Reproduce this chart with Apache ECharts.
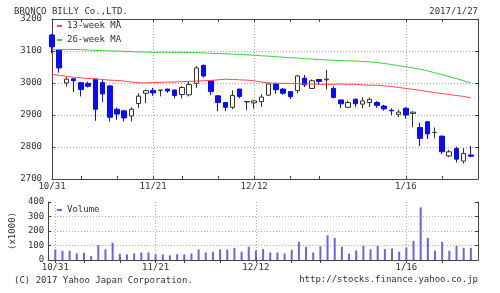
<!DOCTYPE html>
<html><head><meta charset="utf-8">
<script src="https://cdn.jsdelivr.net/npm/echarts/dist/echarts.min.js"></script>
<style>html,body{margin:0;padding:0;background:#fff}#c{width:500px;height:293px}</style>
</head><body><div id="c"></div>
<script>
const dates = ['10/31','11/1','11/2','11/4','11/7','11/8','11/9','11/10','11/11','11/14','11/15','11/16','11/17','11/18','11/21','11/22','11/24','11/25','11/28','11/29','11/30','12/1','12/2','12/5','12/6','12/7','12/8','12/9','12/12','12/13','12/14','12/15','12/16','12/19','12/20','12/21','12/22','12/26','12/27','12/28','12/29','12/30','1/4','1/5','1/6','1/10','1/11','1/12','1/13','1/16','1/17','1/18','1/19','1/20','1/23','1/24','1/25','1/26','1/27'];
const tickDates = ['10/31','11/7','11/14','11/21','11/28','12/5','12/12','12/19','12/26','1/16','1/23'];
const labelDates = ['10/31','11/21','12/12','1/16'];
const opens  = [3150,3103,3000,3013,3001,2999,3012,3001,2991,2918,2913,2897,2936,2968,2977,2977,2981,2978,2964,2963,2999,3055,3007,2960,2939,2924,2981,2941,2938,2942,2962,2997,2981,2973,2976,3015,2983,3011,3010,2983,2947,2924,2949,2934,2939,2939,2928,2915,2902,2921,2905,2861,2879,2845,2834,2772,2795,2756,2775];
const closes = [3113,3047,3012,3007,2980,2990,2918,2966,2893,2903,2891,2918,2959,2976,2969,2978,2975,2961,2986,2995,3047,3022,2973,2939,2924,2961,2958,2942,2944,2956,2997,2979,2968,2957,3022,2994,3007,3005,3012,2955,2935,2939,2935,2944,2949,2930,2919,2913,2909,2900,2909,2827,2841,2846,2785,2785,2762,2780,2771];
const lows   = [3093,3032,2989,2972,2958,2986,2882,2940,2880,2885,2880,2880,2922,2937,2960,2958,2969,2952,2952,2958,2985,3017,2962,2912,2912,2918,2952,2915,2920,2925,2959,2966,2963,2950,2968,2987,2982,2995,2980,2952,2922,2921,2925,2921,2925,2922,2914,2900,2893,2889,2862,2803,2825,2827,2778,2768,2752,2748,2768];
const highs  = [3153,3104,3019,3014,3002,3004,3013,3010,2993,2923,2915,2924,2968,2980,2985,2979,2982,2979,2990,3005,3053,3058,3008,2961,2940,2977,2982,2943,2946,2965,3001,3002,2984,2975,3025,3025,3011,3013,3041,2990,2948,2945,2952,2955,2955,2944,2932,2921,2917,2925,2911,2876,2880,2861,2835,2791,2801,2796,2803];
const ma13 = [3027,3024,3021,3018,3016,3014,3013,3011,3009,3008,3006,3003,3001,3000,3002,3002,3003,3003,3004,3005,3006,3007,3008,3010,3012,3011,3010,3009,3007,3003,3000,2999,2999,2998,2998,2997,2997,2996,2996,2996,2997,2996,2996,2994,2993,2993,2991,2989,2986,2983,2980,2977,2973,2970,2967,2964,2961,2958,2954];
const ma26 = [3105,3105,3105,3105,3104,3103,3102,3101,3100,3100,3099,3098,3097,3097,3096,3096,3096,3096,3096,3095,3095,3094,3093,3092,3091,3090,3089,3088,3087,3085,3084,3082,3081,3079,3078,3076,3075,3073,3072,3071,3070,3069,3069,3067,3066,3064,3061,3058,3054,3051,3047,3043,3038,3032,3026,3020,3014,3007,3000];
const volumes = [73,64,64,45,50,27,102,73,120,43,39,45,52,52,39,39,32,39,39,45,73,52,57,73,73,84,57,91,66,75,52,52,45,70,125,91,52,95,170,152,91,45,66,98,73,98,75,80,57,86,132,363,152,64,125,64,98,84,84];
const priceTicks = {min:2700, max:3200, interval:100};
const volTicks = {min:0, max:400, interval:100};

const FONT = 'DejaVu Sans Mono';
const TXT = '#333';
const mainCats = dates.concat(['']);
const volCats = [' '].concat(dates, ['  ']);
const candleData = dates.map((d,i)=>[opens[i],closes[i],lows[i],highs[i]]);
const volData = [null].concat(volumes);

function xAxisFor(grid, cats, pos, showLabel){
  return {
    type:'category', gridIndex:grid, data:cats, boundaryGap:false, position:pos,
    axisLine:{show:true, lineStyle:{color:'#444', width:1}},
    axisTick:{show:true, inside:true, length:3, lineStyle:{color:'#444'},
      interval:(i)=>tickDates.indexOf(cats[i])>=0},
    axisLabel:{show:showLabel, margin:3, fontSize:9, fontFamily:FONT, color:TXT,
      interval:(i)=>labelDates.indexOf(cats[i])>=0},
    splitLine:{show:pos==='bottom', showMinLine:true, lineStyle:{color:'#aaa', type:[1,2]},
      interval:(i)=>labelDates.indexOf(cats[i])>=0}
  };
}
function yAxisFor(grid, t, pos, showLabel, margin){
  return {
    type:'value', gridIndex:grid, position:pos, min:t.min, max:t.max, interval:t.interval,
    axisLine:{show:true, lineStyle:{color:'#444', width:1}},
    axisTick:{show:true, inside:true, length:3, lineStyle:{color:'#444'}},
    axisLabel:{show:showLabel, margin:margin, fontSize:9, fontFamily:FONT, color:TXT, formatter:(v)=>String(v)},
    splitLine:{show:pos==='left', showMinLine:false, showMaxLine:false, lineStyle:{color:'#aaa', type:[1,2]}}
  };
}

const chart = echarts.init(document.getElementById('c'), null, {renderer:'canvas'});
const vy = yAxisFor(1, volTicks, 'left', true, 4);
vy.name = '(x1000)'; vy.nameLocation='middle'; vy.nameGap=22; vy.nameRotate=90;
vy.nameTextStyle = {fontSize:9, fontFamily:FONT, color:TXT};
chart.setOption({
  animation:false,
  grid:[
    {left:52, right:22, top:19, height:160},
    {left:46, right:22, top:202, height:58}
  ],
  xAxis:[
    xAxisFor(0, mainCats, 'bottom', true),
    xAxisFor(0, mainCats, 'top', false),
    xAxisFor(1, volCats, 'bottom', true),
    xAxisFor(1, volCats, 'top', false)
  ],
  yAxis:[
    yAxisFor(0, priceTicks, 'left', true, 10),
    yAxisFor(0, priceTicks, 'right', false, 4),
    vy,
    yAxisFor(1, volTicks, 'right', false, 4)
  ],
  legend:[
    {data:['13-week MA','26-week MA'], orient:'vertical', left:57, top:19, padding:0, itemGap:0,
     icon:'rect', itemWidth:5, itemHeight:2,
     textStyle:{fontSize:9, fontFamily:FONT, color:TXT, lineHeight:14}},
    {data:['Volume'], orient:'vertical', left:57, top:203, padding:0, itemGap:0,
     icon:'rect', itemWidth:5, itemHeight:2,
     textStyle:{fontSize:9, fontFamily:FONT, color:TXT, lineHeight:14}}
  ],
  series:[
    {name:'price', type:'candlestick', xAxisIndex:0, yAxisIndex:0, data:candleData, barWidth:5,
     itemStyle:{color:'#ffffff', color0:'#0a0aff', borderColor:'#333333', borderColor0:'#0a0aff', borderWidth:1}},
    {name:'13-week MA', type:'line', xAxisIndex:0, yAxisIndex:0, data:ma13, color:'#ff4848',
     showSymbol:false, symbol:'none', lineStyle:{width:1, color:'#ff4848'}},
    {name:'26-week MA', type:'line', xAxisIndex:0, yAxisIndex:0, data:ma26, color:'#3ccc3c',
     showSymbol:false, symbol:'none', lineStyle:{width:1, color:'#3ccc3c'}},
    {name:'Volume', type:'bar', xAxisIndex:2, yAxisIndex:2, data:volData, barWidth:2, color:'#6464ee',
     itemStyle:{color:'#6464ee'}}
  ],
  graphic:[
    {type:'text', x:14, y:12, style:{text:'BRONCO BILLY Co.,LTD.', font:'9px "DejaVu Sans Mono"', fill:TXT, textAlign:'left', textVerticalAlign:'middle'}},
    {type:'text', x:478, y:12, style:{text:'2017/1/27', font:'9px "DejaVu Sans Mono"', fill:TXT, textAlign:'right', textVerticalAlign:'middle'}},
    {type:'text', x:14, y:281, style:{text:'(C) 2017 Yahoo Japan Corporation.', font:'9px "DejaVu Sans Mono"', fill:TXT, textAlign:'left', textVerticalAlign:'middle'}},
    {type:'text', x:478, y:280, style:{text:'http://stocks.finance.yahoo.co.jp', font:'9px "DejaVu Sans Mono"', fill:TXT, textAlign:'right', textVerticalAlign:'middle'}}
  ]
});
</script></body></html>
